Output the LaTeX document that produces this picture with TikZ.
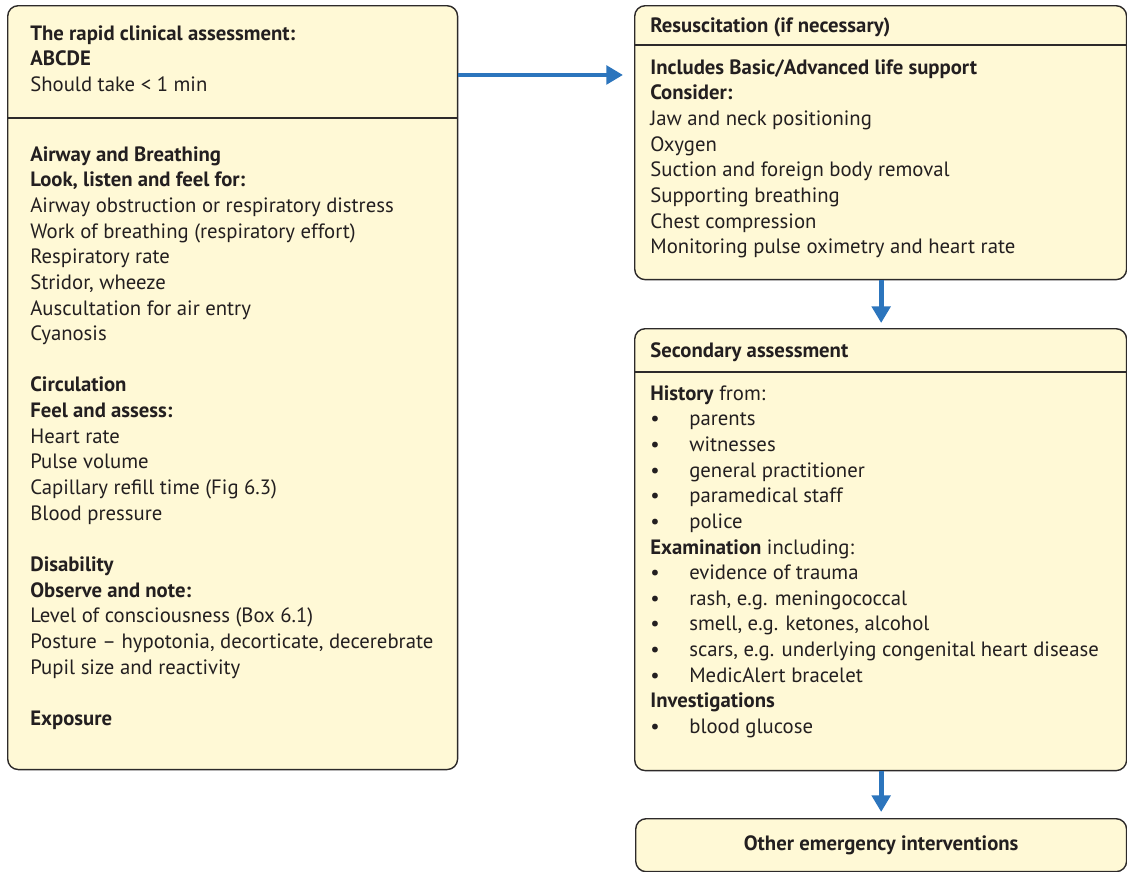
\documentclass[tikz,border=0pt]{standalone}
\usepackage{fontspec}
\setmainfont{PT Sans}
\usetikzlibrary{arrows.meta, positioning}
\definecolor{boxfill}{RGB}{255,249,214}
\definecolor{boxline}{RGB}{45,42,42}
\definecolor{ink}{RGB}{35,31,32}
\definecolor{flowblue}{RGB}{44,117,189}

\begin{document}
\begin{tikzpicture}[
    x=0.02cm, y=-0.02cm,
    font=\fontsize{11.8}{14.6}\selectfont,
    panel/.style={
        rectangle,
        draw=boxline,
        fill=boxfill,
        line width=0.8pt,
        rounded corners=6pt,
        anchor=north west,
        inner sep=0pt
    },
    txt/.style={
        anchor=north west,
        inner sep=0pt,
        align=left,
        text=ink
    },
    divider/.style={
        draw=boxline,
        line width=0.8pt
    },
    line/.style={
        draw=flowblue,
        line width=2.8pt,
        -{Triangle[length=9.5pt,width=10.5pt]}
    }
]
\useasboundingbox (0,0) rectangle (1127,872);

% Boxes
\node [panel, minimum width=9cm, minimum height=15.28cm] (abcde) at (7,5) {};
\node [panel, minimum width=9.84cm, minimum height=5.48cm] (resus) at (634,5) {};
\node [panel, minimum width=9.84cm, minimum height=8.84cm] (second) at (634,328) {};
\node [panel, minimum width=9.82cm, minimum height=1.06cm] (other) at (635,818) {};

% Header dividers
\path [divider] (abcde.west |- 0,118) -- (abcde.east |- 0,118);
\path [divider] (resus.west |- 0,45) -- (resus.east |- 0,45);
\path [divider] (second.west |- 0,372) -- (second.east |- 0,372);

% Rapid clinical assessment
\node [txt] (abcdehead) at (30,25) {\textbf{The rapid clinical assessment:}\\
    \textbf{ABCDE}\\
    Should take < 1 min};
\node [txt] (abcdebody) at (30,146) {\textbf{Airway and Breathing}\\
    \textbf{Look, listen and feel for:}\\
    Airway obstruction or respiratory distress\\
    Work of breathing (respiratory effort)\\
    Respiratory rate\\
    Stridor, wheeze\\
    Auscultation for air entry\\
    Cyanosis\\[14.6pt]
    \textbf{Circulation}\\
    \textbf{Feel and assess:}\\
    Heart rate\\
    Pulse volume\\
    Capillary refill time (Fig 6.3)\\
    Blood pressure\\[14.6pt]
    \textbf{Disability}\\
    \textbf{Observe and note:}\\
    Level of consciousness (Box 6.1)\\
    Posture -- hypotonia, decorticate, decerebrate\\
    Pupil size and reactivity\\[14.6pt]
    \textbf{Exposure}};

% Resuscitation
\node [txt] (resushead) at (650,17) {\textbf{Resuscitation (if necessary)}};
\node [txt] (resusbody) at (650,59) {\textbf{Includes Basic/Advanced life support}\\
    \textbf{Consider:}\\
    Jaw and neck positioning\\
    Oxygen\\
    Suction and foreign body removal\\
    Supporting breathing\\
    Chest compression\\
    Monitoring pulse oximetry and heart rate};

% Secondary assessment
\node [txt] (secondhead) at (650,342) {\textbf{Secondary assessment}};
\node [txt] (secondbody) at (650,385) {\textbf{History} from:\\
    \makebox[0.78cm][l]{\textbullet}parents\\
    \makebox[0.78cm][l]{\textbullet}witnesses\\
    \makebox[0.78cm][l]{\textbullet}general practitioner\\
    \makebox[0.78cm][l]{\textbullet}paramedical staff\\
    \makebox[0.78cm][l]{\textbullet}police\\
    \textbf{Examination} including:\\
    \makebox[0.78cm][l]{\textbullet}evidence of trauma\\
    \makebox[0.78cm][l]{\textbullet}rash, e.g. meningococcal\\
    \makebox[0.78cm][l]{\textbullet}smell, e.g. ketones, alcohol\\
    \makebox[0.78cm][l]{\textbullet}scars, e.g. underlying congenital heart disease\\
    \makebox[0.78cm][l]{\textbullet}MedicAlert bracelet\\
    \textbf{Investigations}\\
    \makebox[0.78cm][l]{\textbullet}blood glucose};

% Other interventions
\node [text=ink, font=\fontsize{11.8}{14.6}\selectfont\bfseries] (otherlabel) at (other.center) {Other emergency interventions};

% Connections
\path [line] ([yshift=-1.4cm]abcde.north east) -- ([xshift=-0.22cm,yshift=-1.4cm]resus.north west);
\path [line] (resus.south -| otherlabel) -- ([yshift=0.1cm]second.north -| otherlabel);
\path [line] (second.south -| otherlabel) -- ([yshift=0.12cm]other.north -| otherlabel);

\end{tikzpicture}
\end{document}
